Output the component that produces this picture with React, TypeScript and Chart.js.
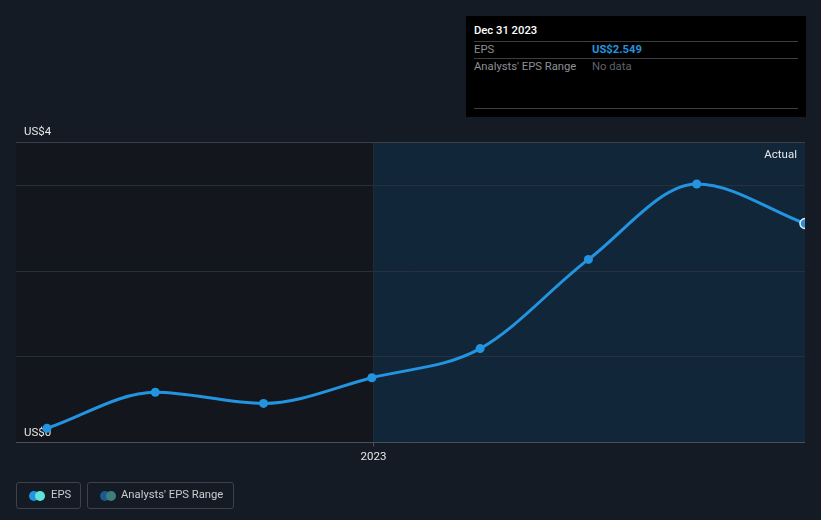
import React, { useEffect, useRef } from "react";
import { Chart, registerables } from "chart.js";

Chart.register(...registerables);

const periods = ["Mar 2022", "Jun 2022", "Sep 2022", "Dec 2022", "Mar 2023", "Jun 2023", "Sep 2023", "Dec 2023"];
const epsValues = [0.16, 0.58, 0.45, 0.75, 1.09, 2.13, 3.01, 2.549];
const gridValues = [1, 2, 3];
const yTopValue = 3.5;
const yTickLabels = ["US$0", "US$4"];
const xTickLabel = "2023";
const xTickIndex = 3;
const forecastStartIndex = 3;

const FONT = "Roboto, 'Noto Sans', Arial, sans-serif";
const LINE_BLUE = "#2394df";

const bgPlugin = {
  id: "bgPlugin",
  beforeDatasetsDraw(chart: any) {
    const { ctx, chartArea, scales } = chart;
    const { left, right, top, bottom } = chartArea;
    const x = scales.x;
    const y = scales.y;
    const xs = Math.round(x.getPixelForValue(forecastStartIndex)) + 1;
    ctx.save();
    ctx.fillStyle = "#13161d";
    ctx.fillRect(left, top, xs - left, bottom - top);
    ctx.fillStyle = "#12263a";
    ctx.fillRect(xs, top, right - xs, bottom - top);

    ctx.lineWidth = 1;
    ctx.strokeStyle = "#27313d";
    gridValues.forEach((v) => {
      const py = Math.round(y.getPixelForValue(v)) + 0.5;
      ctx.beginPath();
      ctx.moveTo(left, py);
      ctx.lineTo(right, py);
      ctx.stroke();
    });
    // vertical divider
    ctx.strokeStyle = "#1f2a36";
    ctx.beginPath();
    ctx.moveTo(xs + 0.5, top);
    ctx.lineTo(xs + 0.5, bottom);
    ctx.stroke();

    // top line
    const pt = Math.round(y.getPixelForValue(yTopValue)) + 0.5;
    ctx.strokeStyle = "#3a3f48";
    ctx.beginPath();
    ctx.moveTo(left, pt);
    ctx.lineTo(right, pt);
    ctx.stroke();
    // bottom axis
    const pb = Math.round(y.getPixelForValue(0)) + 0.5;
    ctx.strokeStyle = "#4a4f58";
    ctx.beginPath();
    ctx.moveTo(left, pb);
    ctx.lineTo(right, pb);
    ctx.stroke();
    // tick
    const tx = xs + 0.5;
    ctx.beginPath();
    ctx.moveTo(tx, pb);
    ctx.lineTo(tx, pb + 4);
    ctx.stroke();

    ctx.font = `11.5px ${FONT}`;
    ctx.fillStyle = "#e6e6e6";
    ctx.textBaseline = "alphabetic";
    ctx.textAlign = "left";
    ctx.fillText(yTickLabels[1], 24, pt - 8);
    ctx.fillText(yTickLabels[0], 24, pb - 7);
    ctx.textAlign = "center";
    ctx.fillText(xTickLabel, tx, pb + 17);
    ctx.textAlign = "right";
    ctx.fillText("Actual", right - 8, pt + 15);
    ctx.restore();
  },
};

export default function App() {
  const ref = useRef<HTMLCanvasElement | null>(null);

  useEffect(() => {
    if (!ref.current) return;
    const n = epsValues.length;
    const chart = new Chart(ref.current, {
      type: "line",
      data: {
        labels: periods,
        datasets: [
          {
            label: "EPS",
            data: epsValues.map((v, i) => ({ x: i, y: v })),
            borderColor: LINE_BLUE,
            borderWidth: 3,
            cubicInterpolationMode: "monotone",
            pointRadius: epsValues.map((_, i) => (i === n - 1 ? 5 : 4.5)),
            pointBackgroundColor: epsValues.map((_, i) => (i === n - 1 ? "#2a8fd6" : LINE_BLUE)),
            pointBorderColor: epsValues.map((_, i) => (i === n - 1 ? "#e4f2ff" : LINE_BLUE)),
            pointBorderWidth: epsValues.map((_, i) => (i === n - 1 ? 1.5 : 0)),
            clip: { left: 10, top: 10, right: 0, bottom: 10 } as any,
          },
        ],
      },
      options: {
        animation: false,
        responsive: false,
        maintainAspectRatio: false,
        layout: { padding: { left: 16, right: 16, top: 142, bottom: 78 } },
        plugins: { legend: { display: false }, tooltip: { enabled: false } },
        events: [],
        scales: {
          x: { type: "linear", display: false, min: -0.286, max: 7 },
          y: { type: "linear", display: false, min: 0, max: yTopValue },
        },
      },
      plugins: [bgPlugin],
    });
    return () => chart.destroy();
  }, []);

  const rowStyle: React.CSSProperties = {
    position: "absolute",
    left: 8,
    right: 8,
    height: 17,
    borderTop: "1px solid #3a3d42",
  };

  return (
    <div
      style={{
        position: "fixed",
        left: 0,
        top: 0,
        width: 821,
        height: 520,
        background: "#151b25",
        fontFamily: FONT,
        overflow: "hidden",
      }}
    >
      <canvas ref={ref} width={821} height={520} style={{ position: "absolute", left: 0, top: 0, width: 821, height: 520 }} />
      <div
        style={{
          position: "absolute",
          left: 466,
          top: 16,
          width: 340,
          height: 101,
          background: "#000000",
          fontSize: 11.25,
        }}
      >
        <div style={{ position: "absolute", left: 8, top: 8, color: "#ffffff", fontWeight: 500 }}>Dec 31 2023</div>
        <div style={{ ...rowStyle, top: 25 }}>
          <span style={{ position: "absolute", left: 0, top: 1, color: "#8c8f94" }}>EPS</span>
          <span style={{ position: "absolute", left: 118, top: 1, color: LINE_BLUE, fontWeight: 700 }}>US$2.549</span>
        </div>
        <div style={{ ...rowStyle, top: 42 }}>
          <span style={{ position: "absolute", left: 0, top: 1, color: "#8c8f94" }}>Analysts' EPS Range</span>
          <span style={{ position: "absolute", left: 118, top: 1, color: "#5f6267" }}>No data</span>
        </div>
        <div style={{ position: "absolute", left: 8, right: 8, top: 92, borderTop: "1px solid #3a3d42" }} />
      </div>
      <div
        style={{
          position: "absolute",
          left: 16,
          top: 482,
          width: 63,
          height: 25,
          border: "1px solid #3d424a",
          borderRadius: 3,
          fontSize: 11.25,
        }}
      >
        <span style={{ position: "absolute", left: 12, top: 8, width: 10, height: 10, borderRadius: 5, background: LINE_BLUE }} />
        <span style={{ position: "absolute", left: 18, top: 8, width: 10, height: 10, borderRadius: 5, background: "#5ee3d8" }} />
        <span style={{ position: "absolute", left: 34, top: 5, color: "#c9cbce" }}>EPS</span>
      </div>
      <div
        style={{
          position: "absolute",
          left: 87,
          top: 482,
          width: 145,
          height: 25,
          border: "1px solid #3d424a",
          borderRadius: 3,
          fontSize: 11.25,
        }}
      >
        <span style={{ position: "absolute", left: 12, top: 8, width: 10, height: 10, borderRadius: 5, background: "#1d5a8c" }} />
        <span style={{ position: "absolute", left: 18, top: 8, width: 10, height: 10, borderRadius: 5, background: "#3b7f7e" }} />
        <span style={{ position: "absolute", left: 33, top: 5, color: "#c9cbce" }}>Analysts' EPS Range</span>
      </div>
    </div>
  );
}
